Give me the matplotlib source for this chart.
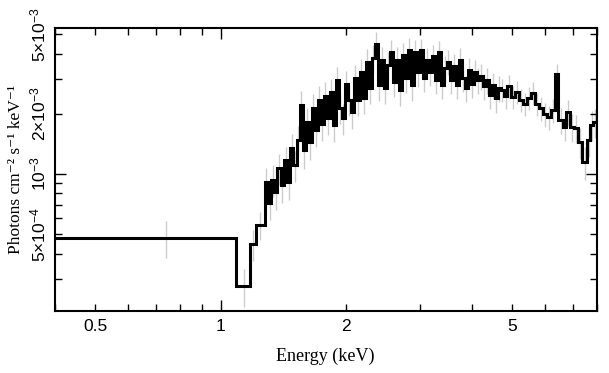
import numpy as np
import matplotlib.pyplot as plt
from matplotlib.ticker import FixedLocator, NullFormatter

plt.rcParams['mathtext.fontset'] = 'custom'
plt.rcParams['mathtext.rm'] = 'Liberation Sans'
plt.rcParams['mathtext.it'] = 'Liberation Sans'

# bin edges (keV)
bin_edges = [0.39, 1.09, 1.178, 1.213, 1.275,
             1.298, 1.322, 1.345, 1.368, 1.392, 1.418, 1.443, 1.468, 1.494, 1.520, 1.547,
             1.573, 1.599, 1.626, 1.653, 1.680, 1.709, 1.737, 1.766, 1.796, 1.826,
             1.856, 1.887, 1.919, 1.951, 1.983, 2.017, 2.050, 2.085, 2.119, 2.155,
             2.191, 2.227, 2.265, 2.302, 2.341, 2.380, 2.420, 2.460, 2.501, 2.543,
             2.586, 2.629, 2.673, 2.717, 2.763, 2.809, 2.856, 2.904, 2.952, 3.001,
             3.051, 3.102, 3.154, 3.207, 3.260, 3.315, 3.370, 3.426, 3.483, 3.541,
             3.601, 3.661, 3.722, 3.784, 3.847, 3.911, 3.977, 4.043, 4.111, 4.179,
             4.249, 4.320, 4.392, 4.466, 4.540, 4.616, 4.693,
             4.772, 4.878, 4.985, 5.097, 5.212, 5.328, 5.445, 5.567, 5.691, 5.821,
             5.951, 6.083, 6.220, 6.360, 6.460, 6.629, 6.756, 6.907, 7.062, 7.198,
             7.380, 7.557, 7.714, 7.844, 8.020]

# flux in units of 1e-3 photons cm^-2 s^-1 keV^-1
flux_milli = [0.479, 0.275, 0.447, 0.558,
              0.91, 0.72, 0.933, 0.81, 1.07, 0.88, 1.17, 0.91, 1.35, 1.11, 1.48,
              2.213, 1.318, 1.820, 1.445, 2.138, 1.660, 2.344, 1.778, 2.455, 1.905,
              2.570, 1.758, 2.951, 2.138, 1.905, 2.818, 2.344, 2.042, 3.020, 2.344,
              3.236, 2.399, 3.631, 2.692, 3.802, 4.467, 2.786, 3.715, 2.692, 3.508,
              4.074, 2.884, 3.715, 2.630, 3.936, 3.020, 4.169, 2.786, 4.074, 3.236,
              4.169, 3.020, 3.715, 3.236, 3.890, 2.951, 4.074, 2.786, 3.388, 3.631,
              2.951, 3.467, 2.786, 3.715, 3.020, 2.692, 3.311, 2.818, 3.236, 2.951,
              3.090, 2.754, 2.951, 2.483, 2.786, 2.399, 2.692,
              2.630, 2.455, 2.754, 2.427, 2.570, 2.344, 2.239, 2.399, 2.541, 2.239,
              2.138, 1.995, 1.928, 2.089, 3.162, 1.862, 1.718, 2.042, 1.718, 1.698,
              1.445, 1.148, 1.479, 1.758, 1.820]

flux_err_milli = [0.10, 0.058, 0.08, 0.09,
                  0.16, 0.13, 0.17, 0.15, 0.19, 0.16, 0.20, 0.17, 0.23, 0.20, 0.25,
                  0.38, 0.26, 0.33, 0.27, 0.37, 0.30, 0.40, 0.32, 0.42, 0.34,
                  0.43, 0.32, 0.48, 0.37, 0.34, 0.46, 0.40, 0.36, 0.49, 0.40,
                  0.52, 0.41, 0.57, 0.45, 0.60, 0.65, 0.46, 0.58, 0.45, 0.55,
                  0.62, 0.47, 0.58, 0.44, 0.60, 0.49, 0.63, 0.46, 0.62, 0.52,
                  0.58, 0.45, 0.53, 0.47, 0.55, 0.44, 0.57, 0.42, 0.49, 0.52,
                  0.44, 0.50, 0.42, 0.53, 0.45, 0.41, 0.48, 0.42, 0.47, 0.44,
                  0.46, 0.41, 0.44, 0.38, 0.42, 0.37, 0.41,
                  0.35, 0.33, 0.36, 0.32, 0.34, 0.31, 0.30, 0.32, 0.34, 0.30,
                  0.29, 0.28, 0.27, 0.29, 0.40, 0.27, 0.26, 0.30, 0.27, 0.27,
                  0.25, 0.22, 0.26, 0.30, 0.30]

xtick_vals = [0.5, 1, 2, 5]
xtick_labels = ['0.5', '1', '2', '5']
xminor_vals = [0.4, 0.6, 0.7, 0.8, 0.9, 3, 4, 6, 7, 8]
ytick_vals = [5e-4, 1e-3, 2e-3, 5e-3]
ytick_labels = [r'$5{\times}10^{-4}$', r'$10^{-3}$', r'$2{\times}10^{-3}$', r'$5{\times}10^{-3}$']
yminor_vals = [3e-4, 4e-4, 6e-4, 7e-4, 8e-4, 9e-4, 3e-3, 4e-3]

edges = np.array(bin_edges)
flux = np.array(flux_milli) * 1e-3
err = np.array(flux_err_milli) * 1e-3
centers = 0.5 * (edges[:-1] + edges[1:])

fig = plt.figure(figsize=(6.09, 3.73), dpi=100)
ax = fig.add_axes([55 / 609, 62 / 373, 542 / 609, 283 / 373])

ax.errorbar(centers, flux, yerr=err, fmt='none', ecolor='#cccccc', elinewidth=1, capsize=0, zorder=1)
ax.stairs(flux, edges, baseline=None, color='black', lw=2.2, zorder=2)

ax.set_xscale('log')
ax.set_yscale('log')
ax.set_xlim(0.4, 8.0)
ax.set_ylim(2.065e-4, 5.37e-3)

ax.xaxis.set_major_locator(FixedLocator(xtick_vals))
ax.set_xticklabels(xtick_labels, fontsize=12.5, family='Liberation Sans')
ax.xaxis.set_minor_locator(FixedLocator(xminor_vals))
ax.xaxis.set_minor_formatter(NullFormatter())
ax.yaxis.set_major_locator(FixedLocator(ytick_vals))
ax.set_yticklabels(ytick_labels, fontsize=12.5, rotation=90, va='center')
ax.yaxis.set_minor_locator(FixedLocator(yminor_vals))
ax.yaxis.set_minor_formatter(NullFormatter())

ax.tick_params(which='both', direction='in', top=True, right=True, width=1)
ax.tick_params(which='major', length=5)
ax.tick_params(which='minor', length=5)
ax.tick_params(axis='x', pad=6)
ax.tick_params(axis='y', pad=4)
for t in ax.xaxis.get_major_ticks():
    if t.get_loc() == 1:
        t.tick1line.set_markersize(8)
        t.tick2line.set_markersize(8)
for t in ax.yaxis.get_major_ticks():
    if t.get_loc() == 1e-3:
        t.tick1line.set_markersize(8)
        t.tick2line.set_markersize(8)

for s in ax.spines.values():
    s.set_linewidth(1.5)

ax.set_xlabel('Energy (keV)', fontsize=13, family=['Liberation Serif', 'DejaVu Serif'])
ax.set_ylabel('Photons cm\u207b\u00b2 s\u207b\u00b9 keV\u207b\u00b9', fontsize=12.5,
              family=['Liberation Serif', 'DejaVu Serif'])
ax.xaxis.set_label_coords(0.498, -0.131)
ax.yaxis.set_label_coords(-0.057, 0.5)

fig.savefig('out.png', dpi=100)
